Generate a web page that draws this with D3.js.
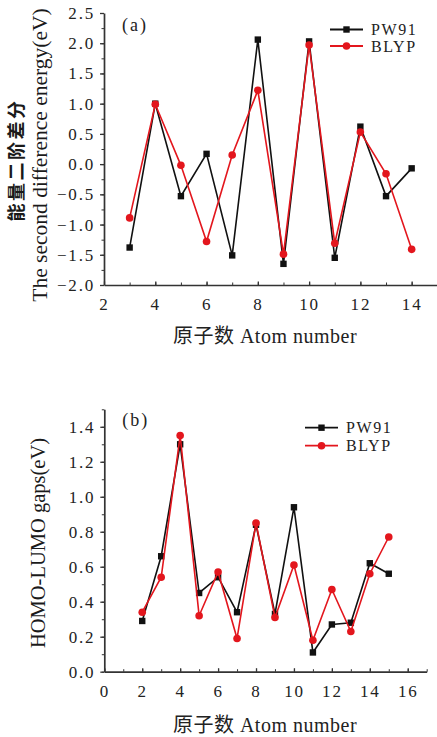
<!DOCTYPE html>
<html>
<head>
<meta charset="utf-8">
<title>能量二阶差分 / HOMO-LUMO gaps</title>
<script src="https://cdnjs.cloudflare.com/ajax/libs/d3/7.8.5/d3.min.js"></script>
<style>
  body { margin: 0; background: #fff; }
  svg { display: block; }
  text { font-family: "Liberation Serif", "Times New Roman", "Noto Sans CJK SC", serif; fill: #222; }
  .axis path, .axis line { stroke: #333; }
</style>
</head>
<body>
<script>
var width = 437, height = 737;

// panel (a): second difference energy
var atomsA = [3, 4, 5, 6, 7, 8, 9, 10, 11, 12, 13, 14];
var pw91A = [-1.38, 1.0, -0.53, 0.17, -1.51, 2.06, -1.65, 2.03, -1.55, 0.62, -0.53, -0.07];
var blypA = [-0.89, 0.99, -0.02, -1.28, 0.15, 1.22, -1.49, 1.97, -1.31, 0.53, -0.16, -1.41];
var xTicksA = [2, 4, 6, 8, 10, 12, 14];
var yTicksA = [-2.0, -1.5, -1.0, -0.5, 0.0, 0.5, 1.0, 1.5, 2.0, 2.5];

// panel (b): HOMO-LUMO gaps
var atomsB = [2, 3, 4, 5, 6, 7, 8, 9, 10, 11, 12, 13, 14, 15];
var pw91B = [0.29, 0.66, 1.30, 0.45, 0.54, 0.34, 0.84, 0.33, 0.94, 0.11, 0.27, 0.28, 0.62, 0.56];
var blypB = [0.34, 0.54, 1.35, 0.32, 0.57, 0.19, 0.85, 0.31, 0.61, 0.18, 0.47, 0.23, 0.56, 0.77];
var xTicksB = [0, 2, 4, 6, 8, 10, 12, 14, 16];
var yTicksB = [0.0, 0.2, 0.4, 0.6, 0.8, 1.0, 1.2, 1.4];

var seriesNames = ["PW91", "BLYP"];
var black = "#111", red = "#e3161d";

var svg = d3.select("body").append("svg")
    .attr("width", width)
    .attr("height", height);

// one panel, all positions in page pixels
function drawPanel(p) {
    var x = d3.scaleLinear().domain(p.xDomain).range([p.left, p.right]);
    var y = d3.scaleLinear().domain(p.yDomain).range([p.bottom, p.top]);
    var g = svg.append("g");

    // minor ticks first
    g.append("g").attr("class", "axis")
        .attr("transform", "translate(0," + p.bottom + ")")
        .call(d3.axisBottom(x).tickValues(d3.range(p.xDomain[0], p.xDomain[1] + 0.01, 1))
            .tickSize(-2.5).tickFormat(""))
        .call(function(s) { s.select(".domain").remove(); });
    g.append("g").attr("class", "axis")
        .attr("transform", "translate(" + p.left + ",0)")
        .call(d3.axisLeft(y).tickValues(d3.range(p.yDomain[0], p.yDomain[1] + 1e-6, p.yMinor))
            .tickSize(2.5).tickFormat(""))
        .call(function(s) { s.select(".domain").remove(); });

    var xa = g.append("g").attr("class", "axis")
        .attr("transform", "translate(0," + p.bottom + ")")
        .call(d3.axisBottom(x).tickValues(p.xTicks).tickSize(-3.5).tickPadding(13)
            .tickSizeOuter(0).tickFormat(d3.format("d")));
    var ya = g.append("g").attr("class", "axis")
        .attr("transform", "translate(" + p.left + ",0)")
        .call(d3.axisLeft(y).tickValues(p.yTicks).tickSize(4).tickPadding(5)
            .tickSizeOuter(0).tickFormat(d3.format(".1f")));
    [xa, ya].forEach(function(a) {
        a.select(".domain").attr("stroke-width", 1.7);
        a.selectAll("line").attr("stroke-width", 1.3);
        a.selectAll("text")
            .attr("font-family", null)
            .attr("fill", "#222")
            .style("font-size", "17px")
            .style("letter-spacing", "1.8px");
    });

    var line = d3.line()
        .x(function(d) { return x(d[0]); })
        .y(function(d) { return y(d[1]); });

    var black_pts = p.atoms.map(function(a, i) { return [a, p.pw91[i]]; });
    var red_pts = p.atoms.map(function(a, i) { return [a, p.blyp[i]]; });

    g.append("path").datum(black_pts).attr("d", line)
        .attr("fill", "none").attr("stroke", black).attr("stroke-width", 1.6);
    g.selectAll("rect.pw").data(black_pts).enter().append("rect")
        .attr("class", "pw")
        .attr("x", function(d) { return x(d[0]) - 3.2; })
        .attr("y", function(d) { return y(d[1]) - 3.2; })
        .attr("width", 6.4).attr("height", 6.4)
        .attr("fill", black);

    g.append("path").datum(red_pts).attr("d", line)
        .attr("fill", "none").attr("stroke", red).attr("stroke-width", 1.6);
    g.selectAll("circle.bl").data(red_pts).enter().append("circle")
        .attr("class", "bl")
        .attr("cx", function(d) { return x(d[0]); })
        .attr("cy", function(d) { return y(d[1]); })
        .attr("r", 3.8)
        .attr("fill", red);

    // panel letter
    g.append("text").text(p.letter)
        .attr("x", p.left + 18).attr("y", p.letterY)
        .style("font-size", "18px").style("letter-spacing", "2px");

    // legend
    var leg = g.append("g");
    seriesNames.forEach(function(name, i) {
        var col = i === 0 ? black : red;
        var ly = p.legendY + i * p.legendGap;
        leg.append("line")
            .attr("x1", p.legendX).attr("x2", p.legendX + 33)
            .attr("y1", ly).attr("y2", ly)
            .attr("stroke", col).attr("stroke-width", 1.8);
        if (i === 0) {
            leg.append("rect").attr("x", p.legendX + 13.3).attr("y", ly - 3.2)
                .attr("width", 6.4).attr("height", 6.4).attr("fill", col);
        } else {
            leg.append("circle").attr("cx", p.legendX + 16.5).attr("cy", ly)
                .attr("r", 3.8).attr("fill", col);
        }
        leg.append("text").text(name)
            .attr("x", p.legendX + 41).attr("y", ly + 5.5)
            .style("font-size", "16px").style("letter-spacing", "1.6px");
    });

    // x title
    g.append("text").text("原子数 Atom number")
        .attr("x", 265).attr("y", p.xTitleY)
        .attr("text-anchor", "middle")
        .style("font-size", "20px").style("letter-spacing", "0.5px");

    // y title lines
    p.yTitles.forEach(function(t) {
        g.append("text").text(t.text)
            .attr("transform", "translate(" + t.x + "," + t.cy + ") rotate(-90)")
            .attr("text-anchor", "middle")
            .style("font-family", t.family || null)
            .style("font-weight", t.weight || null)
            .style("fill", "#1a1a1a")
            .style("font-size", t.size + "px")
            .style("letter-spacing", (t.spacing || 0) + "px");
    });
}

drawPanel({
    atoms: atomsA, pw91: pw91A, blyp: blypA,
    xDomain: [2, 15], yDomain: [-2, 2.5], yMinor: 0.25,
    xTicks: xTicksA, yTicks: yTicksA,
    left: 104, right: 437.3, top: 13, bottom: 285,
    letter: "(a)", letterY: 31,
    legendX: 330, legendY: 29.5, legendGap: 16.5,
    xTitleY: 343,
    yTitles: [
        { text: "能量二阶差分", x: 23, cy: 160, size: 18, spacing: 2.5, weight: "bold", family: "'Noto Sans CJK SC', sans-serif" },
        { text: "The second difference energy(eV)", x: 47, cy: 155, size: 21.5 }
    ]
});

drawPanel({
    atoms: atomsB, pw91: pw91B, blyp: blypB,
    xDomain: [0, 17], yDomain: [0, 1.5], yMinor: 0.1,
    xTicks: xTicksB, yTicks: yTicksB,
    left: 104.3, right: 426.7, top: 409.3, bottom: 671.7,
    letter: "(b)", letterY: 426,
    legendX: 305, legendY: 427.7, legendGap: 18,
    xTitleY: 732,
    yTitles: [
        { text: "HOMO-LUMO gaps(eV)", x: 45, cy: 543, size: 20.5 }
    ]
});
</script>
</body>
</html>
